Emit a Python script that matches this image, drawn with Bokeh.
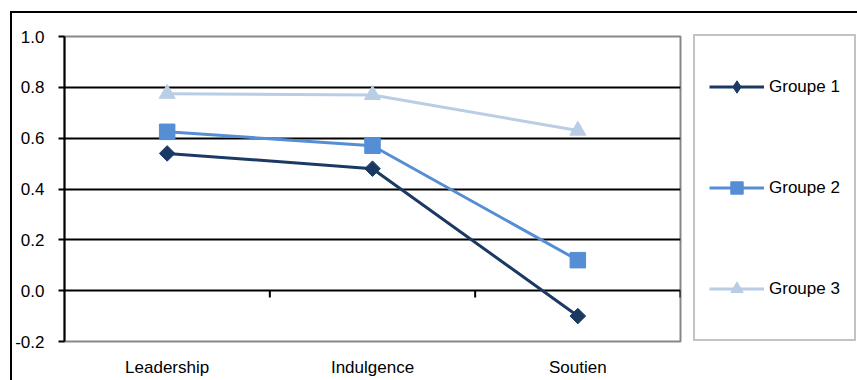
from bokeh.plotting import figure
from bokeh.models import (Range1d, FixedTicker, Legend, LegendItem,
                          NumeralTickFormatter, InlineStyleSheet)
from bokeh.embed import file_html
from bokeh.resources import INLINE

# Data
categories = ["Leadership", "Indulgence", "Soutien"]
groupe1 = [0.54, 0.48, -0.10]
groupe2 = [0.625, 0.57, 0.12]
groupe3 = [0.775, 0.77, 0.63]
series_names = ["Groupe 1", "Groupe 2", "Groupe 3"]
y_ticks = [-0.2, 0.0, 0.2, 0.4, 0.6, 0.8, 1.0]
grid_ticks = [0.0, 0.2, 0.4, 0.6, 0.8]

FONT = "Liberation Sans"
FONT_SIZE = "17px"
colors = ["#1B3A63", "#558ED5", "#B9CDE5"]
# (marker, angle, size) for the data points
markers = [("square", 0.785398, 11),
           ("square", 0.0, 15.5),
           ("triangle", 0.0, 16)]

n = len(categories)
x_pos = [i + 0.5 for i in range(n)]
bounds = [i + 1 for i in range(n)]

p = figure(frame_width=616, frame_height=305, output_backend="svg",
           toolbar_location=None,
           x_range=Range1d(0, n), y_range=Range1d(y_ticks[0], y_ticks[-1]),
           min_border_left=52, min_border_top=23, min_border_right=172,
           min_border_bottom=39)
p.margin = (11, 0, 0, 10)
p.stylesheets = [InlineStyleSheet(css=":host { border-top: 2px solid #000; border-left: 2px solid #000; }")]

p.background_fill_color = "white"
p.border_fill_color = "white"
p.outline_line_color = "#878787"
p.outline_line_width = 2

# y axis
yax = p.yaxis[0]
yax.ticker = FixedTicker(ticks=y_ticks)
yax.formatter = NumeralTickFormatter(format="0.0")
yax.axis_line_color = "black"
yax.axis_line_width = 2
yax.major_tick_line_color = "black"
yax.major_tick_line_width = 2
yax.major_tick_out = 6
yax.major_tick_in = 0
yax.minor_tick_line_color = None
yax.major_label_standoff = 14
yax.major_label_text_font = FONT
yax.major_label_text_font_size = FONT_SIZE
yax.major_label_text_color = "black"

# x axis: category labels only
xax = p.xaxis[0]
xax.ticker = FixedTicker(ticks=x_pos)
xax.major_label_overrides = {x: c for x, c in zip(x_pos, categories)}
xax.axis_line_color = None
xax.major_tick_line_color = None
xax.minor_tick_line_color = None
xax.major_label_standoff = 10
xax.major_label_text_font = FONT
xax.major_label_text_font_size = FONT_SIZE
xax.major_label_text_color = "black"

# grid
p.xgrid.grid_line_color = None
p.ygrid.ticker = FixedTicker(ticks=grid_ticks)
p.ygrid.grid_line_color = "black"
p.ygrid.grid_line_width = 1.8

# category separator ticks on the zero line
p.segment(x0=bounds, y0=[0] * n, x1=bounds, y1=[-0.027] * n,
          line_color="black", line_width=2)

items = []
for i, (name, vals, col, (mk, ang, sz)) in enumerate(
        zip(series_names, [groupe1, groupe2, groupe3], colors, markers)):
    lr = p.line(x_pos, vals, line_color=col, line_width=3)
    key = None
    if ang:
        # small diamond under the rotated square, used as the legend key
        key = p.scatter(x_pos, vals, marker="diamond", size=11,
                        fill_color=col, line_color=col)
    sr = p.scatter(x_pos, vals, marker=mk, angle=ang, size=sz,
                   fill_color=col, line_color=col)
    items.append(LegendItem(label=name, renderers=[lr, key or sr]))

legend = Legend(items=items, location=(13, 0), margin=0, padding=14,
                spacing=28, glyph_width=55, glyph_height=31, label_height=73,
                label_standoff=5, label_text_font=FONT,
                label_text_font_size=FONT_SIZE, label_text_color="black",
                border_line_color="#878787", border_line_width=2,
                background_fill_color="white")
p.add_layout(legend, "right")

open("out.html", "w").write(file_html(p, INLINE))
